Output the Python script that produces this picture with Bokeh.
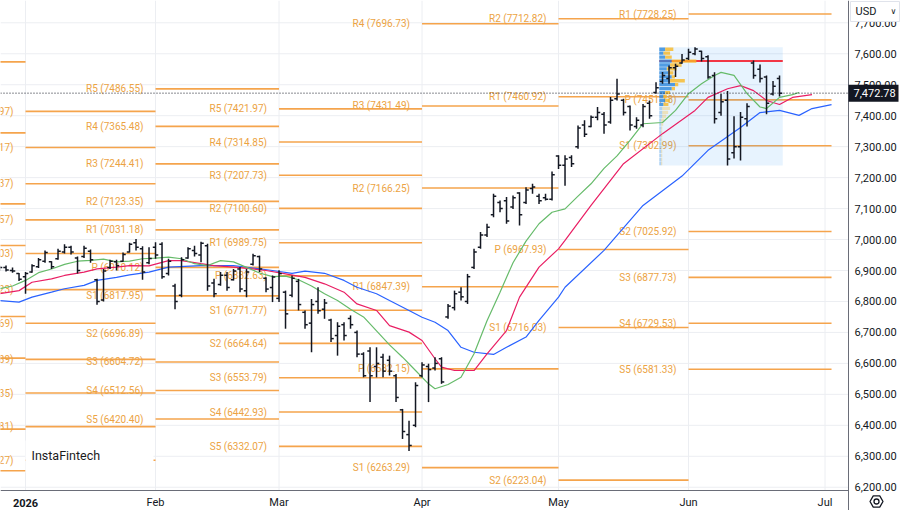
import numpy as np
from bokeh.plotting import figure
from bokeh.models import Range1d, ColumnDataSource
from bokeh.core.properties import value
from bokeh.embed import file_html
from bokeh.resources import INLINE

# ---------------- data ----------------
bar_index = list(range(-4, 117))
open_ = [6905, 6910, 6900, 6890, 6880, 6895, 6912, 6930, 6928, 6938, 6960, 6975, 6940, 6945, 6962, 6870,
         6805, 6910, 6928, 6930, 6960, 6990, 6970, 6925,
         6975, 6985, 6890, 6850, 6820, 6940, 6965, 6950, 6980, 6860, 6855, 6885, 6870, 6905, 6835, 6920,
         6945, 6875, 6845,
         6810, 6830, 6820, 6865, 6765, 6730, 6800, 6775, 6740, 6690, 6725, 6745, 6700, 6630, 6640, 6590,
         6620, 6610, 6560, 6450, 6370, 6400,
         6560, 6590, 6585, 6615, 6750, 6780, 6830, 6800, 6910, 6975, 7015, 7080, 7120, 7125, 7105, 7150,
         7120, 7165, 7140, 7135, 7130,
         7270, 7240, 7265, 7300, 7370, 7365, 7395, 7405, 7380, 7455, 7450, 7430, 7365, 7370, 7440, 7475,
         7510, 7520, 7555, 7570,
         7585, 7600, 7608, 7590, 7530, 7410, 7450, 7280, 7300, 7390, 7570, 7550, 7525, 7470, 7520]
high = [6915, 6916, 6910, 6892, 6895, 6920, 6940, 6965, 6930, 6970, 6985, 6980, 6945, 6980, 6968, 6873,
        6905, 6935, 6935, 6958, 6990, 7002, 6978, 6975,
        6991, 6991, 6938, 6857, 6943, 6975, 6980, 6993, 6986, 6873, 6895, 6895, 6905, 6911, 6905, 6954,
        6948, 6878, 6884,
        6901, 6835, 6884, 6873, 6771, 6808, 6846, 6808, 6744, 6733, 6733, 6755, 6706, 6636, 6652, 6652,
        6631, 6625, 6566, 6453, 6415, 6539,
        6604, 6599, 6620, 6620, 6792, 6835, 6846, 6889, 6970, 7024, 7051, 7148, 7126, 7137, 7142, 7153,
        7169, 7180, 7148, 7148, 7220,
        7272, 7272, 7272, 7368, 7385, 7401, 7428, 7412, 7460, 7519, 7455, 7433, 7395, 7438, 7449, 7508,
        7541, 7562, 7568, 7599,
        7616, 7621, 7610, 7595, 7540, 7470, 7480, 7398, 7412, 7440, 7578, 7565, 7530, 7512, 7530]
low = [6898, 6897, 6893, 6866, 6825, 6893, 6908, 6925, 6905, 6935, 6955, 6952, 6890, 6940, 6925, 6789,
       6800, 6905, 6900, 6928, 6958, 6965, 6870, 6920,
       6938, 6873, 6884, 6775, 6814, 6938, 6945, 6927, 6835, 6814, 6851, 6835, 6868, 6830, 6814, 6916,
       6895, 6830, 6798,
       6798, 6712, 6814, 6771, 6712, 6636, 6760, 6744, 6669, 6625, 6674, 6712, 6620, 6555, 6475, 6555,
       6555, 6561, 6475, 6356, 6317, 6394,
       6555, 6475, 6577, 6534, 6744, 6771, 6803, 6792, 6905, 6970, 7008, 7072, 7088, 7051, 7099, 7045,
       7115, 7148, 7115, 7126, 7126,
       7228, 7174, 7234, 7293, 7331, 7363, 7385, 7342, 7374, 7449, 7401, 7352, 7358, 7363, 7390, 7471,
       7503, 7503, 7525, 7568,
       7580, 7595, 7575, 7519, 7375, 7400, 7239, 7262, 7255, 7365, 7519, 7507, 7405, 7465, 7462]
close = [6910, 6902, 6898, 6872, 6890, 6915, 6935, 6958, 6912, 6962, 6975, 6960, 6900, 6972, 6935, 6800,
         6898, 6930, 6915, 6952, 6985, 6975, 6895, 6939,
         6950, 6880, 6930, 6800, 6935, 6970, 6955, 6988, 6850, 6825, 6885, 6845, 6898, 6840, 6895, 6948,
         6905, 6840, 6879,
         6890, 6760, 6875, 6790, 6725, 6790, 6770, 6795, 6680, 6720, 6690, 6725, 6630, 6560, 6560, 6600,
         6575, 6575, 6490, 6380, 6335, 6528.53,
         6595, 6580, 6600, 6540, 6785, 6825, 6815, 6880, 6960, 7015, 7040, 7140, 7100, 7060, 7135, 7080,
         7160, 7170, 7125, 7130, 7209,
         7240, 7260, 7245, 7360, 7340, 7395, 7410, 7370, 7450, 7470, 7410, 7370, 7385, 7430, 7400, 7490,
         7530, 7555, 7560, 7580,
         7605, 7615, 7585, 7525, 7390, 7445, 7260, 7300, 7395, 7430, 7530, 7520, 7440, 7495, 7472.78]

month_ticks = [0, 20, 39, 61, 82, 102, 123]
month_labels = ["2026", "Feb", "Mar", "Apr", "May", "Jun", "Jul"]
price_ticks = [6200, 6300, 6400, 6500, 6600, 6700, 6800, 6900, 7000, 7100, 7200, 7300, 7400, 7500,
               7600, 7700]
currency = "USD"

# Monthly pivot points (traditional); each month spans [start, end) in bar index
pivot_dec_span = (-22, 0)
pivot_dec_values = [7573.9, 7344.6, 7115.3, 6980.8, 6751.5, 6617.0, 6387.7, 6253.2]

pivot_jan_span = (0, 20)
pivot_jan_names = ["R5", "R4", "R3", "R2", "R1", "P", "S1", "S2", "S3", "S4", "S5"]
pivot_jan_values = [7413.97, 7297.17, 7180.37, 7063.57, 6955.03, 6838.23, 6729.69, 6612.89, 6504.35, 6395.81, 6287.27]

pivot_feb_span = (20, 39)
pivot_feb_names = ["R5", "R4", "R3", "R2", "R1", "P", "S1", "S2", "S3", "S4", "S5"]
pivot_feb_values = [7486.55, 7365.48, 7244.41, 7123.35, 7031.18, 6910.12, 6817.95, 6696.89, 6604.72, 6512.56, 6420.40]

pivot_mar_span = (39, 61)
pivot_mar_names = ["R5", "R4", "R3", "R2", "R1", "P", "S1", "S2", "S3", "S4", "S5"]
pivot_mar_values = [7421.97, 7314.85, 7207.73, 7100.60, 6989.75, 6882.63, 6771.77, 6664.64, 6553.79, 6442.93, 6332.07]

pivot_apr_span = (61, 82)
pivot_apr_names = ["R4", "R3", "R2", "R1", "P", "S1"]
pivot_apr_values = [7696.73, 7431.49, 7166.25, 6847.39, 6582.15, 6263.29]

pivot_may_span = (82, 102)
pivot_may_names = ["R2", "R1", "P", "S1", "S2"]
pivot_may_values = [7712.82, 7460.92, 6967.93, 6716.03, 6223.04]

pivot_jun_span = (102, 124)
pivot_jun_names = ["R1", "P", "S1", "S2", "S3", "S4", "S5"]
pivot_jun_values = [7728.25, 7451.18, 7302.99, 7025.92, 6877.73, 6729.53, 6581.33]

# Alligator (jaw / teeth / lips)
lips_idx = [-4, -2, 0, 2, 4, 6, 8, 10, 12, 14, 16, 18, 20, 22, 24, 26, 28, 30, 32, 34, 36, 38, 40, 42, 44,
            46, 48, 50, 52, 54, 56, 58, 60, 62, 63, 65, 67, 69, 71, 73, 75, 77, 79, 81, 83, 85, 87, 89, 91,
            93, 95, 98, 100, 102, 104, 106, 107, 109, 111, 113, 114, 116, 118, 119]
lips_val = [6841, 6850, 6868, 6893, 6905, 6920, 6930, 6933, 6937, 6928, 6930, 6938, 6940, 6943, 6938, 6922,
            6916, 6932, 6928, 6910, 6892, 6880, 6882, 6870, 6850, 6825, 6803, 6775, 6750, 6705, 6660, 6620,
            6577, 6534, 6518, 6532, 6555, 6631, 6738, 6830, 6925, 6995, 7051, 7088, 7099, 7140, 7180, 7230,
            7270, 7320, 7374, 7378, 7417, 7471, 7503, 7530, 7540, 7530, 7471, 7428, 7423, 7459, 7468, 7475]
teeth_idx = [-4, -1, 1, 4, 6, 9, 11, 14, 16, 19, 22, 24, 27, 29, 32, 35, 37, 40, 43, 46, 49, 51, 54, 56,
             59, 61, 63, 64, 66, 69, 71, 74, 76, 79, 82, 83, 87, 92, 98, 103, 105, 108, 110, 112, 114,
             116, 118, 121]
teeth_val = [6825, 6835, 6862, 6873, 6884, 6895, 6905, 6911, 6916, 6915, 6932, 6932, 6922, 6916, 6911, 6905,
             6900, 6889, 6878, 6857, 6830, 6792, 6771, 6722, 6701, 6674, 6615, 6588, 6577, 6577, 6631,
             6706, 6814, 6911, 6970, 6997, 7110, 7245, 7342, 7417, 7459, 7487, 7497, 7481, 7449, 7436,
             7459, 7468]
jaw_idx = [-4, -1, 1, 4, 6, 9, 11, 14, 16, 19, 22, 27, 32, 35, 38, 41, 43, 46, 49, 51, 54, 56, 59, 61, 63,
           65, 67, 69, 72, 74, 77, 79, 82, 83, 89, 95, 101, 105, 110, 113, 116, 119, 121, 124]
jaw_val = [6803, 6798, 6814, 6830, 6841, 6852, 6868, 6878, 6886, 6895, 6911, 6916, 6916, 6908, 6900, 6891,
           6898, 6891, 6868, 6846, 6825, 6803, 6771, 6749, 6733, 6706, 6652, 6636, 6629, 6652, 6685, 6739,
           6814, 6846, 6965, 7110, 7205, 7288, 7362, 7410, 7417, 7401, 7423, 7436]

# Fixed-range volume profile over bars 98..116
vp_first_bar, vp_last_bar = 98, 116
prof_price = [7614.6, 7601.9, 7589.2, 7576.5, 7563.7, 7551.0, 7538.3, 7525.5, 7512.8, 7500.1,
              7487.4, 7474.6, 7461.9, 7449.2, 7436.4, 7423.7, 7411.0, 7398.2, 7385.5, 7372.8,
              7360.1, 7347.3, 7334.6, 7321.9, 7309.1, 7296.4, 7283.7, 7271.0, 7258.2, 7245.5]
prof_up = [60, 43, 60, 127, 110, 77, 93, 127, 110, 160, 127, 60, 43, 60, 43, 30, 30, 30, 20, 20,
           20, 20, 20, 20, 20, 20, 20, 20, 20, 20]
prof_down = [83, 67, 67, 250, 117, 100, 50, 33, 150, 33, 33, 50, 34, 50, 50, 80, 60, 40, 30, 20,
             10, 10, 10, 10, 10, 10, 10, 10, 10, 10]
value_area = (7430.0, 7625.0)

last_price = 7472.78

# ---------------- figure ----------------
FONT = "Roboto"
TXT = "#131722"
AXIS = "#6a6d78"
GRID = "#eceef2"
PIVOT_LINE = "#f5a44c"
PIVOT_TEXT = "#eca343"

W, H = 900, 510
PLOT_W, PLOT_H = 848, 490            # price pane; the rest is the price / time scale
X0 = -3.85
px_per_bar = 6.5
Y1 = 7772.0
px_per_pt = 490 / 1582.5
X1 = X0 + W / px_per_bar
Y0 = Y1 - H / px_per_pt


def px_x(px):
    return X0 + px / px_per_bar


def px_y(py):
    return Y1 - py / px_per_pt


p = figure(width=W, height=H, x_range=Range1d(X0, X1), y_range=Range1d(Y0, Y1),
           x_axis_type=None, y_axis_type=None, output_backend="svg", toolbar_location=None,
           min_border=0, min_border_left=0, min_border_right=0, min_border_top=0, min_border_bottom=0,
           background_fill_color="white", border_fill_color="white", outline_line_color=None)
p.grid.visible = False

x_end = px_x(PLOT_W)
y_end = px_y(PLOT_H)

# grid of the price pane
p.segment(x0=[X0] * len(price_ticks), y0=price_ticks, x1=[x_end] * len(price_ticks), y1=price_ticks,
          line_color=GRID, line_width=1)
p.segment(x0=month_ticks, y0=[y_end] * len(month_ticks), x1=month_ticks, y1=[Y1] * len(month_ticks),
          line_color=GRID, line_width=1)


# pivot lines + labels
def draw_pivots(span, values, names=None):
    s, e = span
    p.segment(x0=[s] * len(values), y0=values, x1=[e] * len(values), y1=values,
              line_color=PIVOT_LINE, line_width=1.6)
    if names is not None:
        labels = [f"{n} ({v:.2f})" for n, v in zip(names, values)]
        p.text(x=[s - 12 / px_per_bar] * len(values), y=values, text=labels,
               text_align="right", text_baseline="middle", text_font=value(FONT),
               text_font_size="10px", text_color=PIVOT_TEXT)


draw_pivots(pivot_dec_span, pivot_dec_values)
draw_pivots(pivot_jan_span, pivot_jan_values, pivot_jan_names)
draw_pivots(pivot_feb_span, pivot_feb_values, pivot_feb_names)
draw_pivots(pivot_mar_span, pivot_mar_values, pivot_mar_names)
draw_pivots(pivot_apr_span, pivot_apr_values, pivot_apr_names)
draw_pivots(pivot_may_span, pivot_may_values, pivot_may_names)
draw_pivots(pivot_jun_span, pivot_jun_values, pivot_jun_names)

# watermark box
p.quad(left=[px_x(25)], right=[px_x(153)], top=[px_y(440)], bottom=[px_y(472)],
       fill_color="white", line_color=None)
p.text(x=[px_x(31)], y=[px_y(455)], text=["InstaFintech"], text_baseline="middle",
       text_font=value(FONT), text_font_size="12.5px", text_color="#1b1b1b", text_font_style="normal")

# volume profile
hi_arr = np.array(high, dtype=float)
lo_arr = np.array(low, dtype=float)
bi = np.array(bar_index)
mask = (bi >= vp_first_bar) & (bi <= vp_last_bar)
box_l, box_r = vp_first_bar - 0.5, vp_last_bar + 0.5
box_t, box_b = hi_arr[mask].max(), lo_arr[mask].min()
p.quad(left=[box_l], right=[box_r], top=[box_t], bottom=[box_b],
       fill_color="#2196f3", fill_alpha=0.11, line_color=None)

up = np.array(prof_up, dtype=float)
dn = np.array(prof_down, dtype=float)
tot = up + dn
scale = 0.30 * (box_r - box_l) / tot.max()
row_h = prof_price[0] - prof_price[1]
poc = prof_price[int(np.argmax(tot))]
p.segment(x0=[box_l], y0=[poc], x1=[box_r], y1=[poc], line_color="#f23645", line_width=2)

pp = np.array(prof_price)
in_va = (pp >= value_area[0]) & (pp <= value_area[1])
alpha = np.where(in_va, 0.8, 0.3)
top = pp + row_h * 0.42
bot = pp - row_h * 0.42
p.quad(left=[box_l] * len(pp), right=box_l + up * scale, top=top, bottom=bot,
       fill_color="#2a86dc", fill_alpha=alpha, line_color=None)
p.quad(left=box_l + up * scale, right=box_l + tot * scale, top=top, bottom=bot,
       fill_color="#f9b826", fill_alpha=alpha, line_color=None)

# alligator
p.line(jaw_idx, jaw_val, line_color="#2962ff", line_width=1.2)
p.line(teeth_idx, teeth_val, line_color="#e91e63", line_width=1.2)
p.line(lips_idx, lips_val, line_color="#66bb6a", line_width=1.2)

# OHLC bars
tick = 0.42
p.segment(x0=bar_index, y0=low, x1=bar_index, y1=high, line_color=TXT, line_width=1.5)
p.segment(x0=bi - tick, y0=open_, x1=bi, y1=open_, line_color=TXT, line_width=1.5)
p.segment(x0=bi, y0=close, x1=bi + tick, y1=close, line_color=TXT, line_width=1.5)

# last price dotted line
p.segment(x0=[X0], y0=[last_price], x1=[x_end], y1=[last_price], line_color=TXT, line_width=1,
          line_dash="1 2")

# ---- price scale (right) and time scale (bottom) ----
p.segment(x0=[x_end], y0=[Y0], x1=[x_end], y1=[Y1], line_color=AXIS, line_width=1)
p.segment(x0=[X0], y0=[y_end], x1=[x_end], y1=[y_end], line_color=AXIS, line_width=1)

p.text(x=[px_x(854)] * len(price_ticks), y=price_ticks, text=[f"{t:,.2f}" for t in price_ticks],
       text_align="left", text_baseline="middle", text_font=value(FONT), text_font_size="11px",
       text_color=TXT)

xsrc = ColumnDataSource(dict(x=month_ticks, y=[px_y(502)] * len(month_ticks), t=month_labels,
                             st=["bold" if l.isdigit() else "normal" for l in month_labels]))
p.text(x="x", y="y", text="t", text_font_style="st", source=xsrc, text_align="center",
       text_baseline="middle", text_font=value(FONT), text_font_size="11px", text_color=TXT)

# last price tag
p.quad(left=[x_end], right=[px_x(898)], top=[last_price + 8.5 / px_per_pt],
       bottom=[last_price - 8.5 / px_per_pt], fill_color=TXT, line_color=None)
p.text(x=[px_x(853)], y=[last_price], text=[f"{last_price:,.2f}"], text_align="left",
       text_baseline="middle", text_font=value(FONT), text_font_size="11px", text_color="white")

# currency selector
p.quad(left=[px_x(850)], right=[px_x(899)], top=[px_y(1)], bottom=[px_y(21)],
       fill_color="white", line_color="#e0e3eb", line_width=1)
p.text(x=[px_x(855)], y=[px_y(11)], text=[currency], text_align="left", text_baseline="middle",
       text_font=value(FONT), text_font_size="11px", text_color=TXT)
p.text(x=[px_x(893)], y=[px_y(11)], text=["\u2228"], text_align="center", text_baseline="middle",
       text_font=value("DejaVu Sans"), text_font_size="8px", text_color=TXT)

# settings icon
p.scatter(x=[px_x(876)], y=[px_y(501)], marker="hex", size=13, fill_color=None, line_color=TXT,
          line_width=1.3)
p.scatter(x=[px_x(876)], y=[px_y(501)], marker="circle", size=5, fill_color=None, line_color=TXT,
          line_width=1.3)

open("out.html", "w").write(file_html(p, INLINE, title="chart"))
